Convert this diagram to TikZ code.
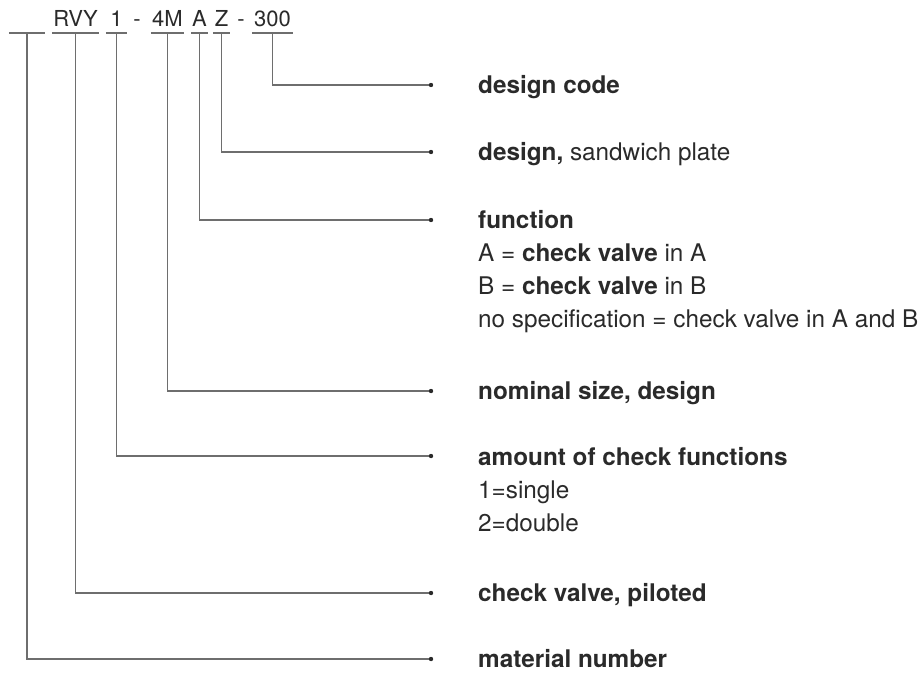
\documentclass[tikz,border=0pt]{standalone}
\usepackage{fontspec}
\setmainfont{TeX Gyre Heros}
\definecolor{textgray}{HTML}{2A2A2A}
\definecolor{linegray}{HTML}{6E6E6E}
\newcommand{\desclines}[1]{\begin{tabular}[t]{@{}l@{}}#1\end{tabular}}
\tikzset{
  part/.style={anchor=south, inner xsep=0pt, inner ysep=6pt, text depth=0pt,
    font=\fontsize{22}{22}\selectfont, text=textgray},
  leader/.style={draw=linegray, line width=1.3pt},
  desc/.style={anchor=base west, inner sep=0pt,
    font=\fontsize{24.3}{33}\selectfont, text=textgray},
}

\begin{document}
\begin{tikzpicture}[x=1pt,y=-1pt]
\useasboundingbox (0,0) rectangle (923,677);

% type code
\node[part, minimum width=36pt] (blank) at (27,33) {};
\node[part, minimum width=47pt] (rvy) at (75.5,33) {RVY};
\node[part, minimum width=21pt] (one) at (116.5,33) {1};
\node[part] (dasha) at (137,33) {-};
\node[part, minimum width=33pt] (size) at (167.5,33) {4M};
\node[part, minimum width=16pt] (func) at (199.5,33) {A};
\node[part, minimum width=17pt] (plate) at (221.5,33) {Z};
\node[part] (dashb) at (241,33) {-};
\node[part, minimum width=41pt] (code) at (272.5,33) {300};

\foreach \p in {blank,rvy,one,size,func,plate,code}
\draw[leader] (\p.south west) -- (\p.south east);

% ends of the leaders
\foreach \e/\y in {ecode/85,eplate/152,efunc/220,esize/391,eone/456,ervy/593,eblank/659}
\coordinate (\e) at (431,\y);

\foreach \p/\e in {code/ecode,plate/eplate,func/efunc,size/esize,one/eone,rvy/ervy,blank/eblank}{
\draw[leader] (\p.south) |- (\e);
\fill[textgray] (\e) circle (2.2pt);
}

% descriptions
\node[desc] (tcode) at ([xshift=47pt,yshift=-8pt]ecode) {\textbf{design code}};
\node[desc] (tplate) at ([xshift=47pt,yshift=-8pt]eplate) {\textbf{design,} sandwich plate};
\node[desc] (tfunc) at ([xshift=47pt,yshift=-8pt]efunc) {\desclines{\textbf{function}\\
A = \textbf{check valve} in A\\
B = \textbf{check valve} in B\\
no specification = check valve in A and B}};
\node[desc] (tsize) at ([xshift=47pt,yshift=-8pt]esize) {\textbf{nominal size, design}};
\node[desc] (tone) at ([xshift=47pt,yshift=-9pt]eone) {\desclines{\textbf{amount of check functions}\\
1=single\\
2=double}};
\node[desc] (trvy) at ([xshift=47pt,yshift=-8pt]ervy) {\textbf{check valve, piloted}};
\node[desc] (tblank) at ([xshift=47pt,yshift=-8pt]eblank) {\textbf{material number}};
\end{tikzpicture}
\end{document}
